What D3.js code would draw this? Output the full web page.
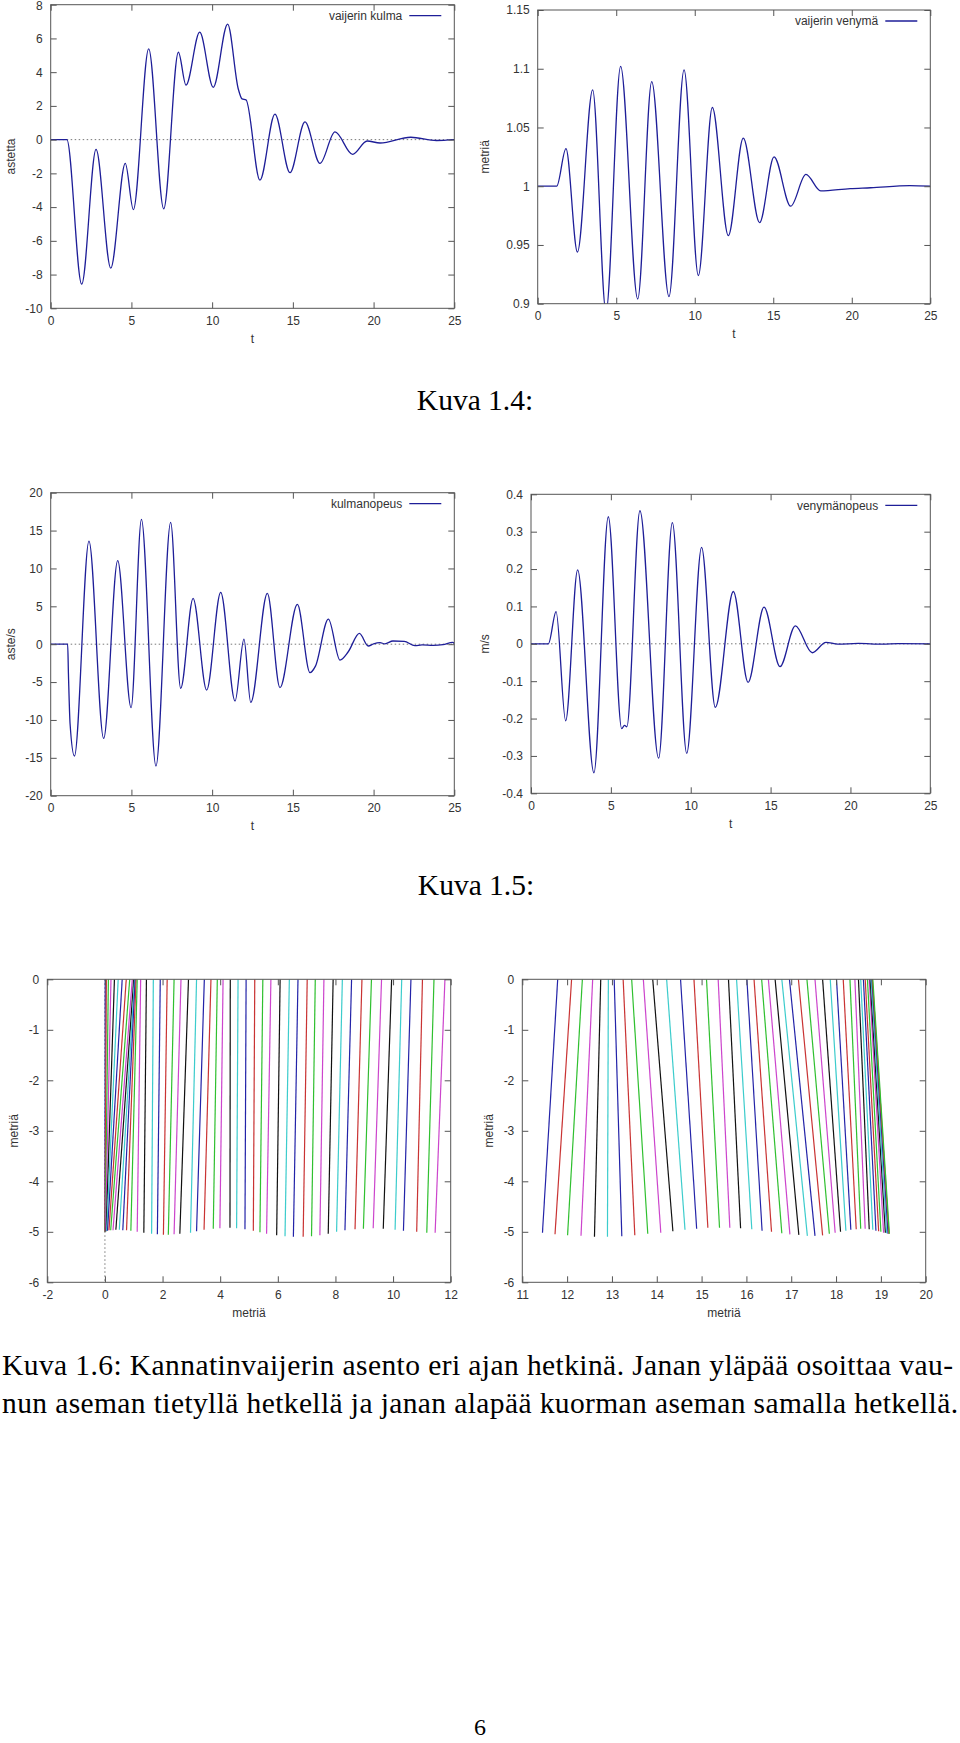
<!DOCTYPE html>
<html>
<head>
<meta charset="utf-8">
<script src="https://cdn.jsdelivr.net/npm/d3@7"></script>
<style>
  body { margin: 0; background: #fff; }
  svg { display: block; }
</style>
</head>
<body>
<script>
/* ---- Kuva 1.4 vasen: vaijerin kulma (astetta) ---- */
var kulmaT = [0, 1.0, 1.92, 2.81, 3.72, 4.62, 5.12, 6.07, 7.0, 7.91, 8.38, 9.23, 10.07, 10.96, 11.62, 11.85, 12.1,
              12.96, 13.89, 14.82, 15.75, 16.68, 17.61, 18.7, 19.6, 20.4, 22.3, 23.9, 25];
var kulmaV = [0, 0, -8.57, -0.58, -7.62, -1.41, -4.15, 5.38, -4.1, 5.18, 3.23, 6.37, 3.1, 6.85, 3.0, 2.42, 2.36,
              -2.4, 1.51, -1.96, 1.05, -1.41, 0.46, -0.87, -0.08, -0.2, 0.14, -0.05, 0];

/* ---- Kuva 1.4 oikea: vaijerin venyma (metria) ---- */
var venymaT = [0, 1.21, 1.80, 2.53, 3.50, 4.35, 5.28, 6.37, 7.26, 8.36, 9.32, 10.23, 11.12, 12.14, 13.09,
               14.13, 15.05, 16.11, 17.08, 18.02, 19.9, 21.2, 23.7, 25];
var venymaV = [1, 1, 1.032, 0.944, 1.082, 0.893, 1.102, 0.904, 1.089, 0.906, 1.099, 0.924, 1.067, 0.958, 1.041,
               0.969, 1.025, 0.983, 1.010, 0.996, 0.998, 0.9987, 1.0005, 1.0];

/* ---- Kuva 1.5 vasen: kulmanopeus (aste/s) ---- */
var kNopT = [0, 1.05, 1.1, 1.2, 1.47, 2.37, 3.28, 4.15, 4.98, 5.62, 6.52, 7.43, 8.05, 8.82, 9.66, 10.53, 11.42,
             11.97, 12.39, 13.42, 14.2, 15.28, 16.06, 16.4, 17.2, 17.92, 18.43, 19.12, 19.67, 20.0, 20.4, 20.7,
             21.2, 21.9, 22.56, 23.0, 23.7, 24.3, 24.9, 25];
var kNopV = [0, 0, -4, -10.5, -14.76, 13.62, -12.43, 11.02, -8.38, 16.48, -16.08, 16.08, -5.83, 6.05, -6.05, 6.84, -7.5,
             0.68, -7.68, 6.71, -5.74, 5.26, -3.76, -2.9, 3.32, -2.09, -1.0, 1.43, -0.24, 0.05, 0.2, 0.05,
             0.42, 0.37, -0.2, -0.1, -0.15, -0.05, 0.25, 0.1];

/* ---- Kuva 1.5 oikea: venymanopeus (m/s) ---- */
var vNopT = [0, 1.09, 1.57, 2.17, 2.92, 3.94, 4.84, 5.68, 5.85, 6.0, 6.82, 7.99, 8.85, 9.75, 10.68, 11.54, 12.67,
             13.59, 14.59, 15.59, 16.55, 17.61, 18.47, 19.2, 20.5, 22.0, 23.0, 25];
var vNopV = [0, 0, 0.086, -0.206, 0.198, -0.345, 0.34, -0.227, -0.218, -0.222, 0.356, -0.306, 0.324, -0.293, 0.258,
             -0.17, 0.14, -0.103, 0.098, -0.061, 0.048, -0.024, 0.004, -0.001, 0.001, -0.001, 0.0005, 0];

/* ---- Kuva 1.6 vasen: janat (ylapaa x, alapaa x, alapaa y) ---- */
var alkuYla = [0.01, 0.05, 0.12, 0.21, 0.33, 0.46, 0.6, 0.74, 0.86, 0.95, 1.0, 1.03, 1.05, 1.08, 1.12,
               1.24, 1.44, 1.68, 1.92, 2.16, 2.4, 2.64, 2.9, 3.18, 3.45, 3.68, 3.9, 4.1, 4.35, 4.62, 4.9,
               5.2, 5.48, 5.76, 6.08, 6.4, 6.7, 7.02, 7.3, 7.6, 7.92, 8.24, 8.56, 8.92, 9.25, 9.6, 9.95,
               10.3, 10.62, 11.02, 11.42, 11.8];
var alkuAla = [0.0, 0.0, 0.01, 0.02, 0.04, 0.06, 0.09, 0.14, 0.2, 0.28, 0.38, 0.5, 0.62, 0.75, 0.9,
               1.12, 1.35, 1.62, 1.82, 2.03, 2.2, 2.4, 2.6, 2.97, 3.18, 3.44, 3.76, 3.99, 4.34, 4.57, 4.86,
               5.15, 5.38, 5.61, 5.96, 6.25, 6.54, 6.88, 7.17, 7.46, 7.75, 8.04, 8.33, 8.68, 8.97, 9.31, 9.66,
               10.07, 10.36, 10.82, 11.17, 11.46];
var alkuAlaY = [-5.0, -5.0, -5.0, -4.99, -4.99, -4.98, -4.98, -4.97, -4.97, -4.97, -4.96, -4.96, -4.97, -4.97, -4.98,
                -5.0, -5.02, -5.04, -5.05, -5.06, -5.06, -5.05, -5.04, -5.02, -4.99, -4.96, -4.94, -4.93, -4.92,
                -4.93, -4.95, -4.98, -5.01, -5.04, -5.07, -5.09, -5.1, -5.1, -5.09, -5.07, -5.04, -5.0, -4.97,
                -4.95, -4.94, -4.93, -4.94, -4.96, -4.98, -5.0, -5.02, -5.02];

/* ---- Kuva 1.6 oikea ---- */
var loppuYla = [11.79, 12.1, 12.34, 12.57, 12.75, 12.92, 13.05, 13.25, 13.44, 13.7, 13.91, 14.22, 14.53, 14.83,
                15.11, 15.37, 15.6, 15.78, 16.01, 16.17, 16.34, 16.49, 16.64, 16.79, 16.96, 17.16, 17.35,
                17.53, 17.7, 17.87, 18.01, 18.16, 18.31, 18.42, 18.5, 18.55, 18.61, 18.65, 18.7, 18.74,
                18.76, 18.78, 18.8, 18.81, 18.82];
var loppuAla = [11.45, 11.73, 12.01, 12.31, 12.61, 12.9, 13.22, 13.51, 13.8, 14.09, 14.36, 14.63, 14.89, 15.14,
                15.4, 15.63, 15.87, 16.12, 16.35, 16.56, 16.79, 16.97, 17.17, 17.36, 17.53, 17.7, 17.85,
                17.98, 18.1, 18.22, 18.33, 18.45, 18.55, 18.65, 18.74, 18.82, 18.89, 18.95, 19.0, 19.06,
                19.1, 19.13, 19.16, 19.18, 19.19];
var loppuAlaY = [-5.02, -5.05, -5.07, -5.08, -5.1, -5.1, -5.09, -5.07, -5.04, -5.02, -4.99, -4.96, -4.94, -4.92,
                 -4.92, -4.92, -4.93, -4.95, -4.98, -5.0, -5.03, -5.05, -5.06, -5.08, -5.08, -5.07, -5.04,
                 -5.02, -5.0, -4.98, -4.96, -4.95, -4.94, -4.94, -4.95, -4.96, -4.98, -4.99, -5.0, -5.02,
                 -5.02, -5.03, -5.04, -5.04, -5.04];

var janaVarit = ["#2323a8", "#c93333", "#2fc02f", "#cc44cc", "#111111", "#3ccccc"];
var kayraVari = "#1e1e98";
var tekstiVari = "#333";
var kehysVari = "#555";

var svg = d3.select("body").append("svg")
	.attr("width", 960)
	.attr("height", 1743);

svg.append("rect").attr("width", 960).attr("height", 1743).attr("fill", "#fff");

function fmt(d) { return String(+d.toFixed(2)); }

var clipId = 0;
// one gnuplot-style frame: box, mirrored inward ticks, labels
function frame(c) {
	var g = svg.append("g");
	var x = d3.scaleLinear().domain(c.xDom).range([c.left, c.right]);
	var y = d3.scaleLinear().domain(c.yDom).range([c.bottom, c.top]);

	clipId++;
	g.append("clipPath").attr("id", "clip" + clipId)
		.append("rect")
		.attr("x", c.left).attr("y", c.top)
		.attr("width", c.right - c.left).attr("height", c.bottom - c.top);

	var axB = g.append("g").attr("transform", "translate(0," + c.bottom + ")")
		.call(d3.axisBottom(x).tickValues(c.xTicks).tickSizeInner(-6).tickSizeOuter(0).tickPadding(8).tickFormat(fmt));
	var axL = g.append("g").attr("transform", "translate(" + c.left + ",0)")
		.call(d3.axisLeft(y).tickValues(c.yTicks).tickSizeInner(-6).tickSizeOuter(0).tickPadding(8).tickFormat(fmt));
	var axT = g.append("g").attr("transform", "translate(0," + c.top + ")")
		.call(d3.axisTop(x).tickValues(c.xTicks).tickSizeInner(-6).tickSizeOuter(0).tickFormat(""));
	var axR = g.append("g").attr("transform", "translate(" + c.right + ",0)")
		.call(d3.axisRight(y).tickValues(c.yTicks).tickSizeInner(-6).tickSizeOuter(0).tickFormat(""));

	[axB, axL, axT, axR].forEach(function(a) {
		a.select(".domain").remove();
		a.selectAll(".tick line").attr("stroke", kehysVari);
		a.selectAll("text")
			.attr("font-family", "Liberation Sans, Arial, sans-serif")
			.attr("font-size", 12)
			.attr("fill", tekstiVari);
	});

	// keep the topmost y label inside the page
	axL.selectAll(".tick text").attr("dy", function(d) {
		return y(d) < 6 ? "0.72em" : "0.32em";
	}).attr("y", function(d) { return y(d) < 6 ? -4 : 0; });

	g.append("rect")
		.attr("x", c.left).attr("y", c.top)
		.attr("width", c.right - c.left).attr("height", c.bottom - c.top)
		.attr("fill", "none").attr("stroke", kehysVari).attr("stroke-width", 1);

	g.append("text")
		.attr("x", (c.left + c.right) / 2)
		.attr("y", c.bottom + 34.5)
		.attr("text-anchor", "middle")
		.attr("font-family", "Liberation Sans, Arial, sans-serif")
		.attr("font-size", 12)
		.attr("fill", tekstiVari)
		.text(c.xLabel);

	g.append("text")
		.attr("transform", "translate(" + c.yLabelX + "," + ((c.top + c.bottom) / 2) + ") rotate(-90)")
		.attr("dy", "0.35em")
		.attr("text-anchor", "middle")
		.attr("font-family", "Liberation Sans, Arial, sans-serif")
		.attr("font-size", 12)
		.attr("fill", tekstiVari)
		.text(c.yLabel);

	var plot = g.append("g").attr("clip-path", "url(#clip" + clipId + ")");
	// put the plot layer below the frame box
	plot.lower();
	g.select("clipPath").lower();
	return { g: g, x: x, y: y, plot: plot, c: c };
}

function zeroLineH(f) {
	f.plot.append("line")
		.attr("x1", f.c.left).attr("x2", f.c.right)
		.attr("y1", f.y(0)).attr("y2", f.y(0))
		.attr("stroke", "#777").attr("stroke-width", 1)
		.attr("stroke-dasharray", "1.5,2.5");
}

function curve(f, ts, vs) {
	var pts = ts.map(function(t, i) { return [t, vs[i]]; });
	var line = d3.line()
		.x(function(d) { return f.x(d[0]); })
		.y(function(d) { return f.y(d[1]); })
		.curve(d3.curveMonotoneX);
	f.plot.append("path")
		.datum(pts)
		.attr("d", line)
		.attr("fill", "none")
		.attr("stroke", kayraVari)
		.attr("stroke-width", 1.3);
}

function legend(f, label) {
	var ly = f.c.top + 11;
	f.g.append("text")
		.attr("x", f.c.right - 52).attr("y", ly)
		.attr("dy", "0.35em")
		.attr("text-anchor", "end")
		.attr("font-family", "Liberation Sans, Arial, sans-serif")
		.attr("font-size", 12)
		.attr("fill", tekstiVari)
		.text(label);
	f.g.append("line")
		.attr("x1", f.c.right - 45).attr("x2", f.c.right - 13)
		.attr("y1", ly).attr("y2", ly)
		.attr("stroke", kayraVari).attr("stroke-width", 1.3);
}

function janat(f, yla, ala, alaY) {
	f.plot.selectAll("line.jana")
		.data(yla)
		.enter()
		.append("line")
		.attr("class", "jana")
		.attr("x1", function(d) { return f.x(d); })
		.attr("y1", f.y(0))
		.attr("x2", function(d, i) { return f.x(ala[i]); })
		.attr("y2", function(d, i) { return f.y(alaY[i]); })
		.attr("stroke", function(d, i) { return janaVarit[i % janaVarit.length]; })
		.attr("stroke-width", 1.2);
}

var tTicks = [0, 5, 10, 15, 20, 25];

/* -------- Kuva 1.4 -------- */
var f1 = frame({ left: 50.7, right: 454.3, top: 4.7, bottom: 308.3, xDom: [0, 25], yDom: [-10, 8],
	xTicks: tTicks, yTicks: d3.range(-10, 9, 2), xLabel: "t", yLabel: "astetta", yLabelX: 11 });
zeroLineH(f1);
curve(f1, kulmaT, kulmaV);
legend(f1, "vaijerin kulma");

var f2 = frame({ left: 537.7, right: 930.3, top: 10, bottom: 303.7, xDom: [0, 25], yDom: [0.9, 1.15],
	xTicks: tTicks, yTicks: [0.9, 0.95, 1, 1.05, 1.1, 1.15], xLabel: "t", yLabel: "metriä", yLabelX: 485 });
curve(f2, venymaT, venymaV);
legend(f2, "vaijerin venymä");

/* -------- Kuva 1.5 -------- */
var f3 = frame({ left: 50.7, right: 454.3, top: 492.7, bottom: 795.7, xDom: [0, 25], yDom: [-20, 20],
	xTicks: tTicks, yTicks: d3.range(-20, 21, 5), xLabel: "t", yLabel: "aste/s", yLabelX: 11 });
zeroLineH(f3);
curve(f3, kNopT, kNopV);
legend(f3, "kulmanopeus");

var f4 = frame({ left: 531, right: 930.3, top: 494.3, bottom: 793.3, xDom: [0, 25], yDom: [-0.4, 0.4],
	xTicks: tTicks, yTicks: [-0.4, -0.3, -0.2, -0.1, 0, 0.1, 0.2, 0.3, 0.4], xLabel: "t", yLabel: "m/s", yLabelX: 485 });
zeroLineH(f4);
curve(f4, vNopT, vNopV);
legend(f4, "venymänopeus");

/* -------- Kuva 1.6 -------- */
var f5 = frame({ left: 47.3, right: 450.7, top: 979.3, bottom: 1282.3, xDom: [-2, 12], yDom: [-6, 0],
	xTicks: d3.range(-2, 13, 2), yTicks: d3.range(-6, 1, 1), xLabel: "metriä", yLabel: "metriä", yLabelX: 14 });
f5.plot.append("line")
	.attr("x1", f5.x(0)).attr("x2", f5.x(0))
	.attr("y1", f5.c.top).attr("y2", f5.c.bottom)
	.attr("stroke", "#777").attr("stroke-width", 1)
	.attr("stroke-dasharray", "1.5,2.5");
janat(f5, alkuYla, alkuAla, alkuAlaY);

var f6 = frame({ left: 522.3, right: 925.7, top: 979.3, bottom: 1282.3, xDom: [11, 20], yDom: [-6, 0],
	xTicks: d3.range(11, 21, 1), yTicks: d3.range(-6, 1, 1), xLabel: "metriä", yLabel: "metriä", yLabelX: 489 });
janat(f6, loppuYla, loppuAla, loppuAlaY);

/* -------- kuvatekstit -------- */
var serif = "Liberation Serif, Times New Roman, serif";
svg.append("text").attr("x", 475).attr("y", 410).attr("text-anchor", "middle")
	.attr("font-family", serif).attr("font-size", 29.5).attr("fill", "#000").text("Kuva 1.4:");
svg.append("text").attr("x", 476).attr("y", 895).attr("text-anchor", "middle")
	.attr("font-family", serif).attr("font-size", 29.5).attr("fill", "#000").text("Kuva 1.5:");

var kuvateksti = [
	"Kuva 1.6: Kannatinvaijerin asento eri ajan hetkinä. Janan yläpää osoittaa vau-",
	"nun aseman tietyllä hetkellä ja janan alapää kuorman aseman samalla hetkellä."
];
var rivinLeveys = [951, 956];
svg.selectAll("text.kuvateksti")
	.data(kuvateksti)
	.enter()
	.append("text")
	.attr("class", "kuvateksti")
	.attr("x", 2)
	.attr("y", function(d, i) { return 1375 + i * 38; })
	.attr("textLength", function(d, i) { return rivinLeveys[i]; })
	.attr("lengthAdjust", "spacing")
	.attr("font-family", serif)
	.attr("font-size", 29.5)
	.attr("fill", "#000")
	.text(function(d) { return d; });

svg.append("text").attr("x", 480).attr("y", 1735).attr("text-anchor", "middle")
	.attr("font-family", serif).attr("font-size", 24).attr("fill", "#000").text("6");
</script>
</body>
</html>
